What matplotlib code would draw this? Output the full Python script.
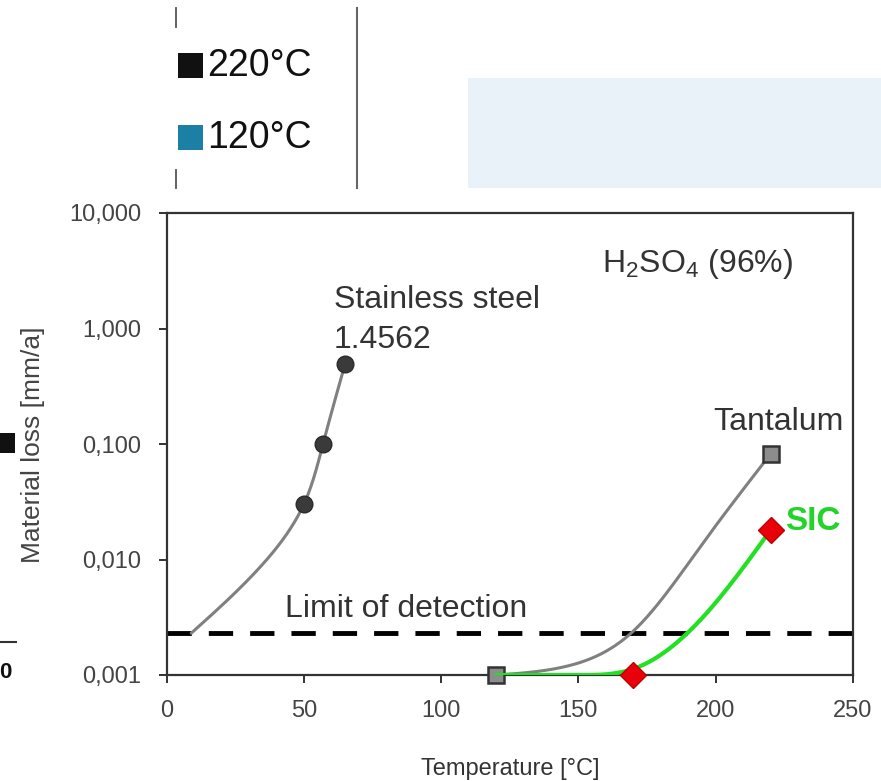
import numpy as np
import matplotlib
matplotlib.use("Agg")
import matplotlib.pyplot as plt
from matplotlib.patches import Rectangle
from matplotlib.lines import Line2D

plt.rcParams['font.family'] = ['Liberation Sans', 'DejaVu Sans']
plt.rcParams['mathtext.fontset'] = 'custom'
plt.rcParams['mathtext.rm'] = 'Liberation Sans'

# --- data ---
# stainless steel 1.4562: measured points + points along its trend line
ss_x = [50, 57, 65]
ss_y = [0.03, 0.1, 0.49]
ss_line_x = [9, 32, 50, 57, 65]
ss_line_y = [0.0023, 0.0076, 0.03, 0.1, 0.49]

# tantalum: markers and points along the smoothed line
ta_x = [120, 220]
ta_y = [0.001, 0.082]
ta_line_x = [120, 145, 170, 195, 220]
ta_line_y = [0.001, 0.00118, 0.0024, 0.0135, 0.082]

# SiC
sic_x = [170, 220]
sic_y = [0.001, 0.018]
sic_line_x = [120, 150, 170, 195, 220]
sic_line_y = [0.001, 0.001, 0.00113, 0.0031, 0.018]

detection_limit = 0.0023

x_ticks = [0, 50, 100, 150, 200, 250]
y_ticks = [0.001, 0.01, 0.1, 1, 10]
y_tick_labels = ["0,001", "0,010", "0,100", "1,000", "10,000"]

legend_labels = ["220°C", "120°C"]
legend_colors = ["#111111", "#1b7fa6"]


def spline(x, y, xs):
    # natural cubic spline through the read points
    x = np.asarray(x, float)
    y = np.asarray(y, float)
    n = len(x)
    h = np.diff(x)
    A = np.zeros((n, n))
    r = np.zeros(n)
    A[0, 0] = A[-1, -1] = 1
    for i in range(1, n - 1):
        A[i, i - 1] = h[i - 1]
        A[i, i] = 2 * (h[i - 1] + h[i])
        A[i, i + 1] = h[i]
        r[i] = 6 * ((y[i + 1] - y[i]) / h[i] - (y[i] - y[i - 1]) / h[i - 1])
    M = np.linalg.solve(A, r)
    i = np.clip(np.searchsorted(x, xs) - 1, 0, n - 2)
    a = x[i + 1] - xs
    b = xs - x[i]
    hi = h[i]
    return (M[i] * a**3 / (6 * hi) + M[i + 1] * b**3 / (6 * hi)
            + (y[i] / hi - M[i] * hi / 6) * a + (y[i + 1] / hi - M[i + 1] * hi / 6) * b)


def smooth(ax, x, y, **kw):
    xs = np.linspace(x[0], x[-1], 400)
    ly = spline(x, np.log10(y), xs)
    ly = np.maximum(ly, np.log10(min(y)))
    ax.plot(xs, 10 ** ly, solid_capstyle="round", **kw)


def smooth_param(ax, x, y, **kw):
    # spline along the chord length of the curve (in screen-like units)
    u = np.asarray(x, float) * 2.745
    v = np.log10(y) * 115.5
    t = np.concatenate([[0], np.cumsum(np.hypot(np.diff(u), np.diff(v)))])
    ts = np.linspace(0, t[-1], 400)
    us = spline(t, u, ts)
    vs = spline(t, v, ts)
    ax.plot(us / 2.745, 10 ** (vs / 115.5), solid_capstyle="round", **kw)


W, H = 881, 781
fig = plt.figure(figsize=(W / 100, H / 100), dpi=100)


def fx(px):
    return px / W


def fy(py):
    return 1 - py / H


ax = fig.add_axes([fx(166.5), fy(675), (853 - 166.5) / W, (675 - 213) / H])

smooth_param(ax, ss_line_x, ss_line_y, color="#808080", lw=2.2, zorder=3)
smooth(ax, ta_line_x, ta_line_y, color="#808080", lw=2.2, zorder=3)

ax.axhline(detection_limit, color="black", lw=3.5, dashes=(5, 3.5), zorder=2)

ax.plot(ss_x, ss_y, "o", ms=12, mfc="#3a3a3a", mec="#2a2a2a", zorder=4, clip_on=False)
ax.plot(ta_x, ta_y, "s", ms=11, mfc="#8c8c8c", mec="#333333", mew=1.8, zorder=4, clip_on=False)

smooth(ax, sic_line_x, sic_line_y, color="#22e022", lw=3, zorder=5)
ax.plot(sic_x, sic_y, "D", ms=13, mfc="#e8000b", mec="#c00000", zorder=6, clip_on=False)

ax.set_yscale("log")
ax.set_xlim(0, 250)
ax.set_ylim(0.001, 10)
ax.set_xticks(x_ticks)
ax.set_yticks(y_ticks)
ax.set_yticklabels(y_tick_labels)
ax.minorticks_off()
ax.tick_params(direction="out", length=6, width=1.3, colors="#222222",
               labelcolor="#444444", labelsize=17, pad=12)
for s in ax.spines.values():
    s.set_linewidth(1.6)
    s.set_color("#333333")

txt = dict(color="#333333", fontsize=23, va="baseline", ha="left")
ax.text(61, 1.51, "Stainless steel", **txt)
ax.text(61, 0.68, "1.4562", **txt)
ax.text(199, 0.132, "Tantalum", **txt)
ax.text(43.2, 0.0032, "Limit of detection", **txt)
ax.text(158.6, 3.08, r"H$_\mathregular{2}$SO$_\mathregular{4}$ (96%)", **txt)
ax.text(225.3, 0.018, "SIC", color="#22d42a", fontsize=24, fontweight="bold",
        va="baseline", ha="left")

fig.text(fx(510), fy(769), "Temperature [°C]", ha="center", va="center",
         fontsize=17, color="#333333")
fig.text(fx(33), fy(445), "Material loss [mm/a]", ha="center", va="center",
         rotation=90, fontsize=19, color="#444444")

# fragments of the neighbouring panels
fig.add_artist(Rectangle((fx(468), fy(188)), fx(881 - 468), (188 - 78) / H,
                         transform=fig.transFigure, color="#e8f2f8", lw=0))
fig.add_artist(Line2D([fx(176), fx(176)], [fy(8), fy(27)], transform=fig.transFigure, color="#555555", lw=1.3))
fig.add_artist(Line2D([fx(176), fx(176)], [fy(170), fy(188)], transform=fig.transFigure, color="#555555", lw=1.3))
fig.add_artist(Line2D([fx(357), fx(357)], [fy(8), fy(188)], transform=fig.transFigure, color="#666666", lw=1.5))
for i, (lab, col) in enumerate(zip(legend_labels, legend_colors)):
    ytop = 53 + i * 72
    fig.add_artist(Rectangle((fx(178), fy(ytop + 25)), 25 / W, 25 / H,
                             transform=fig.transFigure, color=col, lw=0))
    fig.text(fx(207), fy(ytop + 13), lab, ha="left", va="center", fontsize=27, color="#111111")

fig.add_artist(Rectangle((0, fy(453)), 15 / W, 20 / H, transform=fig.transFigure, color="#111111", lw=0))
fig.add_artist(Line2D([0, fx(16)], [fy(642), fy(642)], transform=fig.transFigure, color="#333333", lw=1.5))
fig.text(fx(11), fy(672), "0", ha="right", va="center", fontsize=16, fontweight="bold", color="#111111")

fig.savefig("out.png", dpi=100)
